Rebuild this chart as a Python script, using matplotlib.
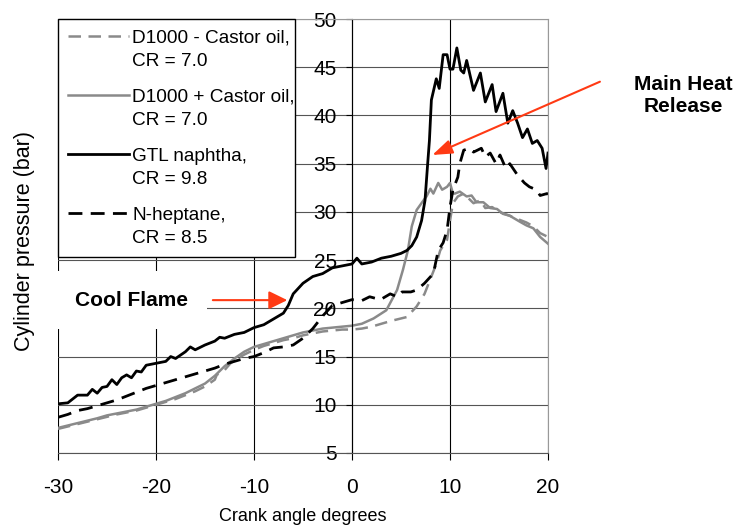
import numpy as np
import matplotlib
matplotlib.use("Agg")
import matplotlib.pyplot as plt
from matplotlib.legend_handler import HandlerLine2D

plt.rcParams['font.family'] = ['Liberation Sans', 'DejaVu Sans']
plt.rcParams['axes.unicode_minus'] = False

# crank angle (deg) / cylinder pressure (bar)
gtl_x = [-30, -29, -28.5, -28, -27, -26.5, -26, -25.5, -25, -24.5, -24, -23.5, -23, -22.5, -22,
         -21.5, -21, -20, -19, -18.5, -18, -17, -16.5, -16, -15, -14, -13.5, -13, -12, -11, -10,
         -9, -8, -7, -6.5, -6, -5, -4, -3, -2, -1, 0, 0.5, 1, 2, 3, 4, 5, 5.6, 6.1, 6.6, 7.1,
         7.45, 7.7, 7.9, 8.1, 8.6, 8.9, 9.3, 9.7, 10.0, 10.3, 10.7, 11.1, 11.4, 11.7, 12.4, 13.1,
         13.6, 14.3, 14.7, 15.4, 15.9, 16.4, 16.9, 17.4, 17.9, 18.4, 18.9, 19.4, 19.8, 20]
gtl_y = [10.1, 10.2, 10.6, 11.0, 11.0, 11.6, 11.2, 11.8, 11.9, 12.6, 12.1, 12.8, 13.1, 12.8, 13.5,
         13.4, 14.1, 14.3, 14.5, 15.0, 14.8, 15.5, 16.0, 15.7, 16.2, 16.6, 17.0, 16.9, 17.3, 17.5,
         18.0, 18.3, 18.9, 19.5, 20.3, 21.5, 22.6, 23.3, 23.6, 24.2, 24.4, 24.6, 25.2, 24.6, 24.8,
         25.2, 25.4, 25.7, 26.0, 26.5, 27.4, 29.1, 31.2, 34.7, 37.4, 41.6, 43.8, 42.8, 46.3, 46.3,
         44.8, 44.8, 47.0, 44.7, 44.4, 45.7, 42.6, 44.4, 41.4, 43.2, 40.4, 42.3, 39.2, 40.5, 39.2,
         37.7, 38.6, 37.1, 37.4, 36.6, 34.5, 36.1]

hep_x = [-30, -29, -28, -27, -26, -25, -24, -23, -22, -21, -20, -19, -18, -17, -16, -15, -14, -13,
         -12, -11, -10, -9, -8, -7, -6, -5, -4, -3, -2, -1, 0, 1, 1.8, 2.9, 3.9, 4.6, 5.1, 6, 6.6,
         7.4, 8.3, 8.8, 9.3, 9.7, 10.0, 10.3, 10.8, 11.0, 11.4, 12.0, 12.4, 13.2, 13.6, 14.1, 14.7,
         15.1, 15.7, 16.1, 16.9, 17.6, 18.1, 18.8, 19.2, 19.9, 20]
hep_y = [8.7, 9.0, 9.4, 9.6, 9.9, 10.2, 10.5, 10.9, 11.3, 11.7, 12.0, 12.3, 12.6, 12.9, 13.2, 13.5,
         13.8, 14.2, 14.5, 14.8, 15.0, 15.4, 15.9, 16.0, 16.2, 16.9, 17.9, 19.2, 20.3, 20.6, 20.9,
         20.8, 21.2, 20.9, 21.5, 21.2, 21.7, 21.7, 21.9, 22.6, 23.6, 26.0, 26.8, 28.1, 30.5, 32.3,
         33.6, 35.0, 36.4, 36.6, 36.2, 36.6, 35.7, 36.1, 35.0, 35.9, 34.5, 35.0, 33.8, 33.0, 32.6,
         32.3, 31.7, 31.9, 31.8]

dplus_x = [-30, -28, -26, -25, -24, -22, -20, -19, -18, -17, -16, -15, -14, -13, -12, -11, -10, -9,
           -8, -7, -6, -5, -4, -3, -2, -1, 0, 1, 2.2, 3.5, 4.6, 5.2, 5.7, 6.1, 6.6, 7.3, 7.6, 8.0,
           8.3, 8.8, 9.2, 9.7, 10.0, 10.3, 10.5, 11.0, 11.7, 12.2, 12.7, 13.4, 14.1, 14.8, 15.4,
           16.1, 17.1, 17.8, 18.5, 19.2, 20]
dplus_y = [7.6, 8.1, 8.6, 8.9, 9.1, 9.5, 10.1, 10.4, 10.8, 11.2, 11.7, 12.2, 13.0, 14.0, 14.8, 15.5,
           16.0, 16.3, 16.6, 16.9, 17.2, 17.5, 17.7, 17.9, 18.0, 18.1, 18.2, 18.4, 18.95, 19.8,
           21.9, 24.0, 26.0, 28.5, 30.2, 31.2, 31.6, 32.4, 31.9, 33.0, 32.3, 32.6, 33.0, 31.9,
           31.9, 32.1, 31.6, 31.7, 31.0, 31.0, 30.4, 30.3, 29.8, 29.6, 29.0, 28.6, 28.3, 27.4, 26.7]

dminus_x = [-30, -28, -26, -24, -22, -20, -19, -18, -17, -16, -15, -14, -13.8, -13, -12.4, -12, -11,
            -10, -9, -8, -7, -6, -5, -4, -3, -2, -1, 0, 1, 2, 3, 4, 5.6, 6.6, 7.4, 8.1, 8.6, 9.0,
            9.7, 10.0, 10.3, 10.8, 11.4, 12.4, 13.1, 13.6, 14.3, 15.0, 16.1, 16.8, 17.8, 18.5,
            19.2, 20]
dminus_y = [7.5, 8.0, 8.5, 9.0, 9.4, 10.0, 10.3, 10.6, 11.0, 11.4, 11.9, 12.6, 13.1, 13.6, 14.3,
            14.6, 15.2, 15.7, 16.1, 16.4, 16.7, 16.9, 17.2, 17.4, 17.6, 17.7, 17.8, 17.8, 17.9,
            18.1, 18.4, 18.7, 19.1, 20.2, 21.5, 23.3, 24.6, 26.0, 27.1, 29.1, 30.9, 31.6, 31.9,
            30.9, 31.2, 30.4, 30.5, 30.0, 29.6, 29.3, 28.9, 28.5, 27.8, 27.4]

labels = ["D1000 - Castor oil,\nCR = 7.0", "D1000 + Castor oil,\nCR = 7.0",
          "GTL naphtha,\nCR = 9.8", "N-heptane,\nCR = 8.5"]

gray = '#8a8a8a'
red = '#ff3a14'


class TopHandler(HandlerLine2D):
    # put the legend line level with the first line of a two-line label
    def create_artists(self, legend, orig_handle, xdescent, ydescent, width, height, fontsize, trans):
        arts = super().create_artists(legend, orig_handle, xdescent, ydescent, width, height, fontsize, trans)
        for a in arts:
            a.set_ydata(np.asarray(a.get_ydata()) + 0.72 * fontsize)
        return arts


fig = plt.figure(figsize=(7.36, 5.25), dpi=100)
ax = fig.add_axes([58 / 736, 1 - 453 / 525, 490 / 736, 434 / 525])

l1, = ax.plot(dminus_x, dminus_y, color=gray, lw=1.8, dashes=(5, 3), label=labels[0])
l2, = ax.plot(dplus_x, dplus_y, color=gray, lw=1.8, label=labels[1])
l3, = ax.plot(gtl_x, gtl_y, color='black', lw=2, label=labels[2])
l4, = ax.plot(hep_x, hep_y, color='black', lw=2, dashes=(5, 3), label=labels[3])

ax.set_xlim(-30, 20)
ax.set_ylim(5, 50)
ax.set_xticks(range(-30, 21, 10))
ax.set_yticks(range(5, 51, 5))
ax.set_axisbelow(True)
ax.grid(axis='x', color='black', lw=0.8)
ax.grid(axis='y', color='#555555', lw=0.8)

ax.spines['left'].set_position(('data', 0))
ax.spines['left'].set_color('black')
ax.spines['bottom'].set_color('#555555')
ax.spines['top'].set_color('#999999')
ax.spines['right'].set_color('#999999')
ax.tick_params(axis='y', direction='out', length=4, pad=7, labelsize=15)
ax.tick_params(axis='x', direction='out', length=5, pad=13, labelsize=15)

ax.set_xlabel("Crank angle degrees", fontsize=13, labelpad=8)
fig.text(25 / 736, 1 - 241 / 525, "Cylinder pressure (bar)", rotation=90,
         ha='center', va='center', fontsize=15.5)

leg = ax.legend(handles=[l1, l2, l3, l4], loc='upper left', bbox_to_anchor=(0, 0.5, 0.484, 0.5),
                mode='expand', borderaxespad=0, fontsize=13.7, handlelength=3.2,
                handletextpad=0.15, labelspacing=1.0, fancybox=False, framealpha=1,
                edgecolor='black', borderpad=0.55,
                handler_map={l: TopHandler() for l in [l1, l2, l3, l4]})
for t in leg.get_texts():
    t.set_linespacing(1.47)
leg.get_frame().set_linewidth(1)
leg.set_zorder(5)

ax.text(-28.3, 20.85, "Cool Flame", fontsize=15, fontweight='bold', va='center', ha='left',
        zorder=4, bbox=dict(facecolor='white', edgecolor='none', pad=14))
ax.annotate('', xy=(-6.6, 20.85), xytext=(-14.2, 20.85),
            arrowprops=dict(arrowstyle='-|>,head_length=0.45,head_width=0.22', color=red,
                            lw=1.5, mutation_scale=25, shrinkA=0, shrinkB=0), zorder=6)

ax.text(33.8, 42.1, "Main Heat\nRelease", fontsize=15, fontweight='bold', ha='center',
        va='center', clip_on=False)
ax.annotate('', xy=(8.2, 35.9), xytext=(25.3, 43.5), annotation_clip=False,
            arrowprops=dict(arrowstyle='-|>,head_length=0.45,head_width=0.16', color=red,
                            lw=1.5, mutation_scale=27, shrinkA=0, shrinkB=0), zorder=6)

fig.savefig("out.png", dpi=100)
